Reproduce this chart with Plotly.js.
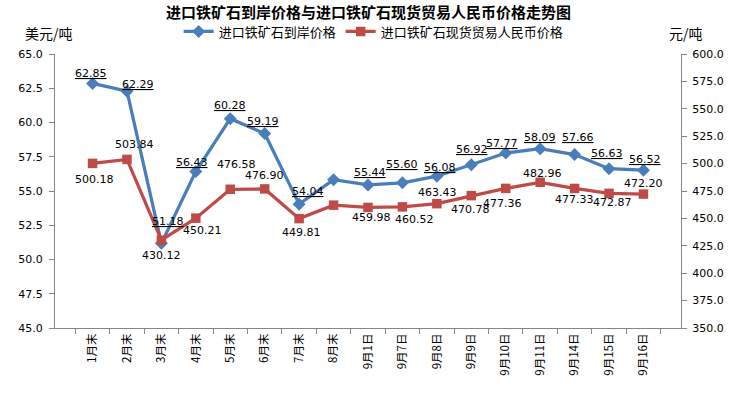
<!DOCTYPE html>
<html>
<head>
<meta charset="utf-8">
<script src="https://cdn.plot.ly/plotly-3.0.1.min.js"></script>
<style>html,body{margin:0;padding:0;background:#fff;}#chart{width:737px;height:394px;}</style>
</head>
<body>
<div id="chart"></div>
<script>
const categories = ["1月末","2月末","3月末","4月末","5月末","6月末","7月末","8月末","9月1日","9月7日","9月8日","9月9日","9月10日","9月11日","9月14日","9月15日","9月16日"];
const cifPrice = [62.85,62.29,51.18,56.43,60.28,59.19,54.04,55.83,55.44,55.60,56.08,56.92,57.77,58.09,57.66,56.63,56.52];
const spotPrice = [500.18,503.84,430.12,450.21,476.58,476.90,449.81,462.10,459.98,460.52,463.43,470.78,477.36,482.96,477.33,472.87,472.20];
const labelShown = [1,1,1,1,1,1,1,0,1,1,1,1,1,1,1,1,1];
const leftTicks = [45,47.5,50,52.5,55,57.5,60,62.5,65];
const rightTicks = [350,375,400,425,450,475,500,525,550,575,600];

// label offsets in screen pixels (dx right, dy down)
const cifLabelDx = [-2,11,7,-4,0,-2,9,0,2,0,3,1,-4,0,3,-2,2];
const cifLabelDy = [-10,-7,-22,-9,-13,-12,-13,0,-12,-18,-9,-15,-10,-11,-17,-15,-11];
const spotLabelDx = [2,8,0,7,6,0,2,0,3,12,1,-1,-3,2,0,3,0];
const spotLabelDy = [16,-15,15,12,-25,-13,14,0,10,13,-11,14,15,-9,11,9,-11];

const FONT = "DejaVu Sans, Noto Sans CJK SC, sans-serif";
const CJK = "Noto Sans CJK SC, sans-serif";

const traces = [
  {
    x: categories, y: cifPrice, name: "进口铁矿石到岸价格",
    type: "scatter", mode: "lines+markers",
    line: {color: "#4a7ebb", width: 3.25},
    marker: {symbol: "diamond", size: 10, color: "#4a7ebb"},
    cliponaxis: false
  },
  {
    x: categories, y: spotPrice, name: "进口铁矿石现货贸易人民币价格",
    type: "scatter", mode: "lines+markers", yaxis: "y2",
    line: {color: "#be4b48", width: 3.25},
    marker: {symbol: "square", size: 9.5, color: "#be4b48"},
    cliponaxis: false
  }
];

const labelFont = {family: FONT, size: 11, color: "#000"};
const annotations = [];
categories.forEach((c, i) => {
  if (!labelShown[i]) return;
  annotations.push({x: c, y: cifPrice[i], xref: "x", yref: "y", text: "<u>" + cifPrice[i].toFixed(2) + "</u>",
    showarrow: false, xanchor: "center", yanchor: "middle", xshift: cifLabelDx[i], yshift: -cifLabelDy[i], font: labelFont});
  annotations.push({x: c, y: spotPrice[i], xref: "x", yref: "y2", text: spotPrice[i].toFixed(2),
    showarrow: false, xanchor: "center", yanchor: "middle", xshift: spotLabelDx[i], yshift: -spotLabelDy[i], font: labelFont});
});
annotations.push(
  {text: "美元/吨", xref: "paper", yref: "paper", x: -0.01, y: 1.077, xanchor: "center", yanchor: "middle", showarrow: false, font: {family: CJK, size: 14, color: "#000"}},
  {text: "元/吨", xref: "paper", yref: "paper", x: 1.008, y: 1.077, xanchor: "center", yanchor: "middle", showarrow: false, font: {family: CJK, size: 14, color: "#000"}}
);

const layout = {
  width: 737, height: 394,
  margin: {l: 55, r: 56, t: 54, b: 66},
  paper_bgcolor: "#fff", plot_bgcolor: "#fff",
  font: {family: FONT, size: 11, color: "#000"},
  title: {text: "<b>进口铁矿石到岸价格与进口铁矿石现货贸易人民币价格走势图</b>", font: {family: CJK, size: 15, color: "#000"}, x: 0.5, xanchor: "center", y: 0.968, yanchor: "middle"},
  showlegend: true,
  legend: {orientation: "h", x: 0.509, xanchor: "center", y: 1.082, yanchor: "middle", font: {family: CJK, size: 13, color: "#000"}, bgcolor: "rgba(0,0,0,0)", tracegroupgap: 0},
  xaxis: {
    type: "category", tickson: "boundaries", ticks: "outside", ticklen: 5, tickcolor: "#868686",
    showline: true, linecolor: "#868686", linewidth: 1, showgrid: false, zeroline: false,
    tickangle: -90, tickfont: {family: CJK, size: 11.5, color: "#000"}, fixedrange: true
  },
  yaxis: {
    range: [45, 65], tickvals: leftTicks, ticktext: leftTicks.map(v => v.toFixed(1)),
    ticks: "outside", ticklen: 5, tickcolor: "#868686", ticklabelstandoff: 4,
    showline: true, linecolor: "#868686", linewidth: 1, showgrid: false, zeroline: false,
    tickfont: {family: FONT, size: 11, color: "#000"}
  },
  yaxis2: {
    range: [350, 600], tickvals: rightTicks, ticktext: rightTicks.map(v => v.toFixed(1)),
    overlaying: "y", side: "right",
    ticks: "outside", ticklen: 5, tickcolor: "#868686", ticklabelstandoff: 3,
    showline: true, linecolor: "#868686", linewidth: 1, showgrid: false, zeroline: false,
    tickfont: {family: FONT, size: 11, color: "#000"}
  },
  annotations: annotations
};

Plotly.newPlot("chart", traces, layout, {displayModeBar: false, staticPlot: true});
</script>
</body>
</html>
